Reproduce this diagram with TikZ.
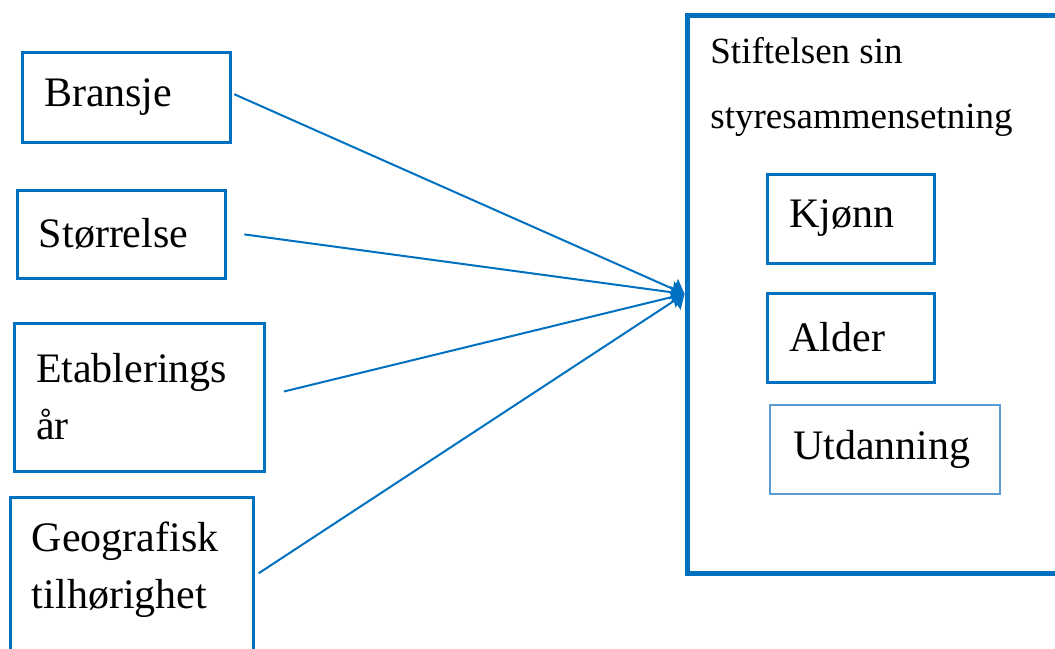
\documentclass[tikz,border=0pt]{standalone}
\usepackage{fontspec}
\setmainfont{Liberation Serif}
\usetikzlibrary{arrows.meta}
\definecolor{boxblue}{RGB}{0,112,192}
\definecolor{paleblue}{RGB}{91,155,213}

\begin{document}
\begin{tikzpicture}[x=0.5pt,y=-0.5pt,
        factor/.style={draw=boxblue,line width=1.5pt,align=left,inner xsep=11pt,inner ysep=0pt,
                font=\fontsize{21}{28.5}\selectfont},
        member/.style={factor,minimum width=83.5pt,minimum height=44.5pt,text width=61pt},
        link/.style={draw=boxblue,line width=1pt,-{Triangle[length=6pt,width=11pt]}}]
        \useasboundingbox (0,0) rectangle (1055,648);

        % left side: factors
        \node[factor,minimum width=104pt,minimum height=45pt,text width=82pt] (bransje) at (126,97) {Bransje};
        \node[factor,minimum width=104pt,minimum height=44pt,text width=82pt] (storrelse) at (121,234) {Størrelse};
        \node[factor,minimum width=125pt,minimum height=74pt,text width=103pt] (etabl) at (139,397) {Etablerings\\år};
        \node[factor,minimum width=121.5pt,minimum height=96.5pt,text width=99.5pt] (geo) at (131.5,593.5) {Geografisk\\tilhørighet\\\mbox{}};

        % right side: the board
        \node[draw=boxblue,line width=2.5pt,minimum width=187.5pt,minimum height=279pt] (board) at (874.5,294) {};
        \node[anchor=base west,inner sep=0pt,align=left,font=\fontsize{18.5}{32.5}\selectfont] (title) at (710,128) {Stiftelsen sin\\styresammensetning};
        \node[member] (kjonn) at (850.5,218.5) {Kjønn};
        \node[member] (alder) at (850.5,337.5) {Alder};
        \node[member,draw=paleblue,line width=1pt,minimum width=115pt,text width=92pt] (utd) at (885,449) {Utdanning};

	\draw[link,shorten <=1.5pt] ([yshift=2pt]bransje.east) -- (board.west);
	\draw[link,shorten <=9pt] ([yshift=1pt]storrelse.east) -- (board.west);
	\draw[link,shorten <=9.5pt] ([yshift=0.5pt]etabl.east) -- (board.west);
	\draw[link,shorten <=2.5pt] ([yshift=8.75pt]geo.east) -- (board.west);
\end{tikzpicture}
\end{document}
